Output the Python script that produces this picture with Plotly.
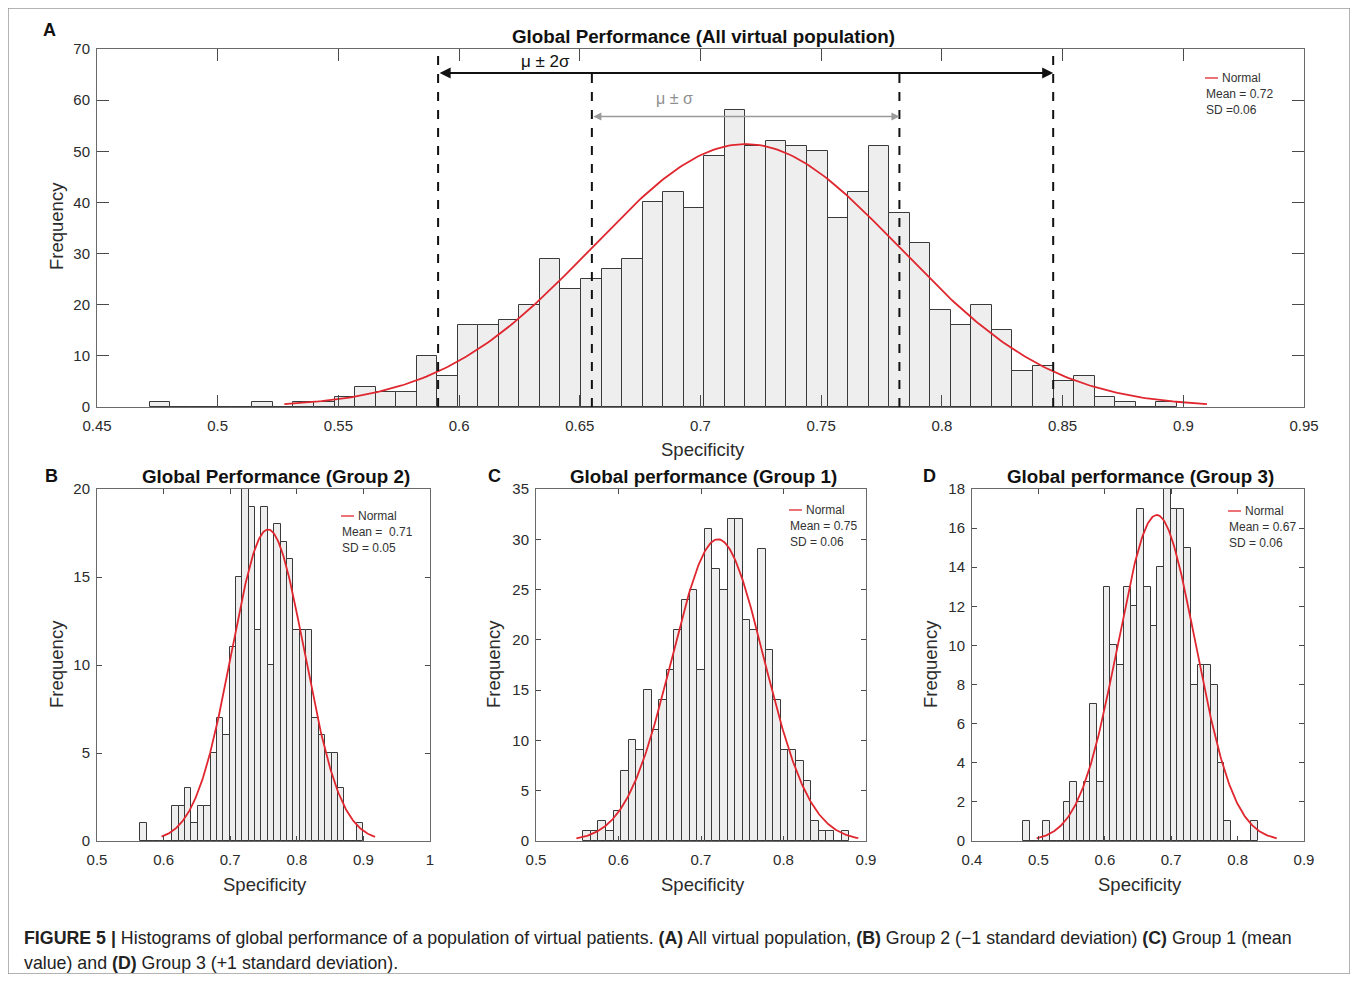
import numpy as np
import plotly.graph_objects as go

# ---------------- data ----------------
# Panel A: all virtual population
a_counts = [1, 0, 0, 0, 0, 1, 0, 1, 1, 2, 4, 3, 3, 10, 6, 16, 16, 17, 20, 29,
            23, 25, 27, 29, 40, 42, 39, 49, 58, 51, 52, 51, 50, 37, 42, 51, 38, 32, 19, 16,
            20, 15, 7, 8, 5, 6, 2, 1, 0, 1]
a_bin_start, a_bin_width = 0.4718, 0.00851
a_mean, a_sd, a_peak = 0.7187, 0.0637, 51.4
a_curve_range = (0.5276, 0.9098)

# Panel B: group 2
b_counts = [1, 0, 0, 0, 0, 2, 2, 3, 1, 2, 2, 5, 7, 6, 11, 15, 20, 19, 12, 19,
            10, 18, 17, 16, 12, 12, 12, 7, 6, 5, 5, 3, 0, 0, 1]
b_bin_start, b_bin_width = 0.5653, 0.00956
b_mean, b_sd, b_peak = 0.7568, 0.0547, 17.7
b_curve_range = (0.597, 0.9174)

# Panel C: group 1
c_counts = [1, 1, 2, 1, 3, 7, 10, 9, 15, 11, 14, 17, 21, 24, 25, 17, 31, 27, 25, 32,
            32, 22, 21, 29, 19, 14, 9, 9, 8, 6, 2, 1, 1, 0, 1]
c_bin_start, c_bin_width = 0.5573, 0.00921
c_mean, c_sd, c_peak = 0.7205, 0.0557, 30.0
c_curve_range = (0.549, 0.8907)

# Panel D: group 3
d_counts = [1, 0, 0, 1, 0, 0, 2, 3, 2, 3, 7, 3, 13, 10, 9, 13, 12, 17, 13, 11,
            14, 18, 17, 17, 15, 8, 9, 9, 8, 4, 1, 0, 0, 0, 1]
d_bin_start, d_bin_width = 0.4773, 0.01009
d_mean, d_sd, d_peak = 0.6782, 0.0584, 16.67
d_curve_range = (0.4974, 0.8589)

a_xticks = [0.45, 0.5, 0.55, 0.6, 0.65, 0.7, 0.75, 0.8, 0.85, 0.9, 0.95]
a_xlabels = ["0.45", "0.5", "0.55", "0.6", "0.65", "0.7", "0.75", "0.8", "0.85", "0.9", "0.95"]
a_yticks = [0, 10, 20, 30, 40, 50, 60, 70]
b_xticks = [0.5, 0.6, 0.7, 0.8, 0.9, 1.0]
b_xlabels = ["0.5", "0.6", "0.7", "0.8", "0.9", "1"]
b_yticks = [0, 5, 10, 15, 20]
c_xticks = [0.5, 0.6, 0.7, 0.8, 0.9]
c_xlabels = ["0.5", "0.6", "0.7", "0.8", "0.9"]
c_yticks = [0, 5, 10, 15, 20, 25, 30, 35]
d_xticks = [0.4, 0.5, 0.6, 0.7, 0.8, 0.9]
d_xlabels = ["0.4", "0.5", "0.6", "0.7", "0.8", "0.9"]
d_yticks = [0, 2, 4, 6, 8, 10, 12, 14, 16, 18]

titles = ["Global Performance (All virtual population)", "Global Performance (Group 2)",
          "Global performance (Group 1)", "Global performance (Group 3)"]
legend_texts = [("Normal", "Mean = 0.72", "SD =0.06"),
                ("Normal", "Mean =  0.71", "SD = 0.05"),
                ("Normal", "Mean = 0.75", "SD = 0.06"),
                ("Normal", "Mean = 0.67", "SD = 0.06")]

# ---------------- layout helpers ----------------
W, H, OFF = 1342, 966, 8
FONT = "Liberation Sans, Arial, sans-serif"


def px(X):
    return (X - OFF) / W


def py(Y):
    return 1 - (Y - OFF) / H


def note(X, Y, text, size, color="#111111", xanchor="center", **kw):
    return dict(x=px(X), y=py(Y), xref="paper", yref="paper", text=text, showarrow=False,
                xanchor=xanchor, yanchor="middle", font=dict(family=FONT, size=size, color=color),
                **kw)


fig = go.Figure()

panels = [
    dict(counts=a_counts, start=a_bin_start, w=a_bin_width, mean=a_mean, sd=a_sd, peak=a_peak,
         cr=a_curve_range, xr=[0.45, 0.95], yr=[0, 70], xt=a_xticks, xl=a_xlabels, yt=a_yticks,
         dom_x=(97, 1304), dom_y=(407, 49), ticklen=12),
    dict(counts=b_counts, start=b_bin_start, w=b_bin_width, mean=b_mean, sd=b_sd, peak=b_peak,
         cr=b_curve_range, xr=[0.5, 1.0], yr=[0, 20], xt=b_xticks, xl=b_xlabels, yt=b_yticks,
         dom_x=(97, 430), dom_y=(841, 489), ticklen=5),
    dict(counts=c_counts, start=c_bin_start, w=c_bin_width, mean=c_mean, sd=c_sd, peak=c_peak,
         cr=c_curve_range, xr=[0.5, 0.9], yr=[0, 35], xt=c_xticks, xl=c_xlabels, yt=c_yticks,
         dom_x=(536, 866), dom_y=(841, 489), ticklen=5),
    dict(counts=d_counts, start=d_bin_start, w=d_bin_width, mean=d_mean, sd=d_sd, peak=d_peak,
         cr=d_curve_range, xr=[0.4, 0.9], yr=[0, 18], xt=d_xticks, xl=d_xlabels, yt=d_yticks,
         dom_x=(972, 1304), dom_y=(841, 489), ticklen=5),
]

RED = "#e0262e"
annotations = []
shapes = []

for i, p in enumerate(panels):
    n = i + 1
    xa = "x" if n == 1 else f"x{n}"
    ya = "y" if n == 1 else f"y{n}"
    counts = np.array(p["counts"], dtype=float)
    centers = p["start"] + p["w"] * (np.arange(len(counts)) + 0.5)
    fig.add_trace(go.Bar(x=centers, y=counts, width=p["w"], xaxis=xa, yaxis=ya,
                         marker=dict(color="#eeeeee", line=dict(color="#3a3a3a", width=1)),
                         showlegend=False, hoverinfo="skip"))
    xs = np.linspace(p["cr"][0], p["cr"][1], 300)
    ys = p["peak"] * np.exp(-0.5 * ((xs - p["mean"]) / p["sd"]) ** 2)
    fig.add_trace(go.Scatter(x=xs, y=ys, mode="lines", xaxis=xa, yaxis=ya,
                             line=dict(color=RED, width=1.8), showlegend=False, hoverinfo="skip"))

    axcommon = dict(showline=True, linecolor="#6a6a6a", linewidth=1, mirror="allticks",
                    ticks="inside", ticklen=p["ticklen"], tickcolor="#4a4a4a", tickwidth=1,
                    showgrid=False, zeroline=False, automargin=False,
                    tickfont=dict(family=FONT, size=15, color="#2b2b2b"))
    xkey = "xaxis" if n == 1 else f"xaxis{n}"
    ykey = "yaxis" if n == 1 else f"yaxis{n}"
    fig.update_layout(**{
        xkey: dict(domain=[px(p["dom_x"][0]), px(p["dom_x"][1])], range=p["xr"],
                   anchor=ya, tickvals=p["xt"], ticktext=p["xl"], ticklabelstandoff=5,
                   **axcommon),
        ykey: dict(domain=[py(p["dom_y"][0]), py(p["dom_y"][1])], range=p["yr"],
                   anchor=xa, tickvals=p["yt"], ticklabelstandoff=3, **axcommon),
    })

# ---------------- panel A reference lines ----------------
m, s = a_mean, a_sd
for k, top in [(-2, 70), (2, 70), (-1, 65.3), (1, 65.3)]:
    shapes.append(dict(type="line", xref="x", yref="y", x0=m + k * s, x1=m + k * s, y0=0, y1=top,
                       line=dict(color="#111111", width=2, dash="dash")))

# mu +/- 2 sigma arrow (black)
annotations.append(dict(x=m + 2 * s, y=65.3, ax=m - 2 * s, ay=65.3, xref="x", yref="y",
                        axref="x", ayref="y", text="", showarrow=True, arrowside="end+start",
                        arrowhead=2, arrowsize=1.1, arrowwidth=2, arrowcolor="#111111"))
annotations.append(dict(x=0.6356, y=67.6, xref="x", yref="y", text="μ ± 2σ", showarrow=False,
                        xanchor="center", yanchor="middle",
                        font=dict(family=FONT, size=17, color="#111111")))
# mu +/- sigma arrow (gray)
annotations.append(dict(x=m + s, y=56.8, ax=m - s, ay=56.8, xref="x", yref="y",
                        axref="x", ayref="y", text="", showarrow=True, arrowside="end+start",
                        arrowhead=2, arrowsize=1.0, arrowwidth=1.6, arrowcolor="#9a9a9a"))
annotations.append(dict(x=0.6894, y=60.3, xref="x", yref="y", text="μ ± σ", showarrow=False,
                        xanchor="center", yanchor="middle",
                        font=dict(family=FONT, size=16, color="#8f8f8f")))

# ---------------- titles, labels ----------------
title_pos = [(703, 36), (276, 476), (703, 476), (1140, 476)]
for t, (X, Y) in zip(titles, title_pos):
    annotations.append(note(X, Y, f"<b>{t}</b>", 18.8))

panel_letters = [("A", 49, 30), ("B", 51, 476), ("C", 494, 476), ("D", 929, 476)]
for L, X, Y in panel_letters:
    annotations.append(note(X, Y, f"<b>{L}</b>", 18))

ylabel_pos = [(56, 226), (56, 664), (493, 664), (930, 664)]
for X, Y in ylabel_pos:
    annotations.append(note(X, Y, "Frequency", 18.5, color="#2b2b2b", textangle=-90))

xlabel_pos = [(703, 450), (265, 884), (703, 884), (1140, 884)]
for X, Y in xlabel_pos:
    annotations.append(note(X, Y, "Specificity", 18.5, color="#2b2b2b"))

# legends (text boxes)
legend_pos = [(1205, 78, 16), (341, 516, 16), (789, 510, 16), (1228, 511, 16)]
for (l1, l2, l3), (X, Y, dy) in zip(legend_texts, legend_pos):
    shapes.append(dict(type="line", xref="paper", yref="paper", x0=px(X), x1=px(X + 13),
                       y0=py(Y), y1=py(Y), line=dict(color=RED, width=1.3)))
    annotations.append(note(X + 15, Y, l1, 12, color="#333333", xanchor="left"))
    for j, txt in enumerate([l2, l3]):
        annotations.append(note(X - 1, Y + dy * (j + 1), txt, 12, color="#333333",
                                xanchor="left"))

# caption
cap1 = ("<b>FIGURE 5 |</b> Histograms of global performance of a population of virtual patients. "
        "<b>(A)</b> All virtual population, <b>(B)</b> Group 2 (−1 standard deviation) "
        "<b>(C)</b> Group 1 (mean")
cap2 = "value) and <b>(D)</b> Group 3 (+1 standard deviation)."
for txt, Y in [(cap1, 938), (cap2, 963)]:
    annotations.append(note(22, Y, txt, 17.8, color="#222222", xanchor="left"))

# outer frame
shapes.append(dict(type="rect", xref="paper", yref="paper", x0=0, x1=1, y0=0, y1=1,
                   line=dict(color="#9a9a9a", width=1.5)))

fig.update_layout(template="none", width=W, height=H,
                  margin=dict(l=0, r=0, t=0, b=0, pad=0, autoexpand=False),
                  paper_bgcolor="white", plot_bgcolor="white", bargap=0,
                  annotations=annotations, shapes=shapes, showlegend=False)

fig.write_html("out.html")
